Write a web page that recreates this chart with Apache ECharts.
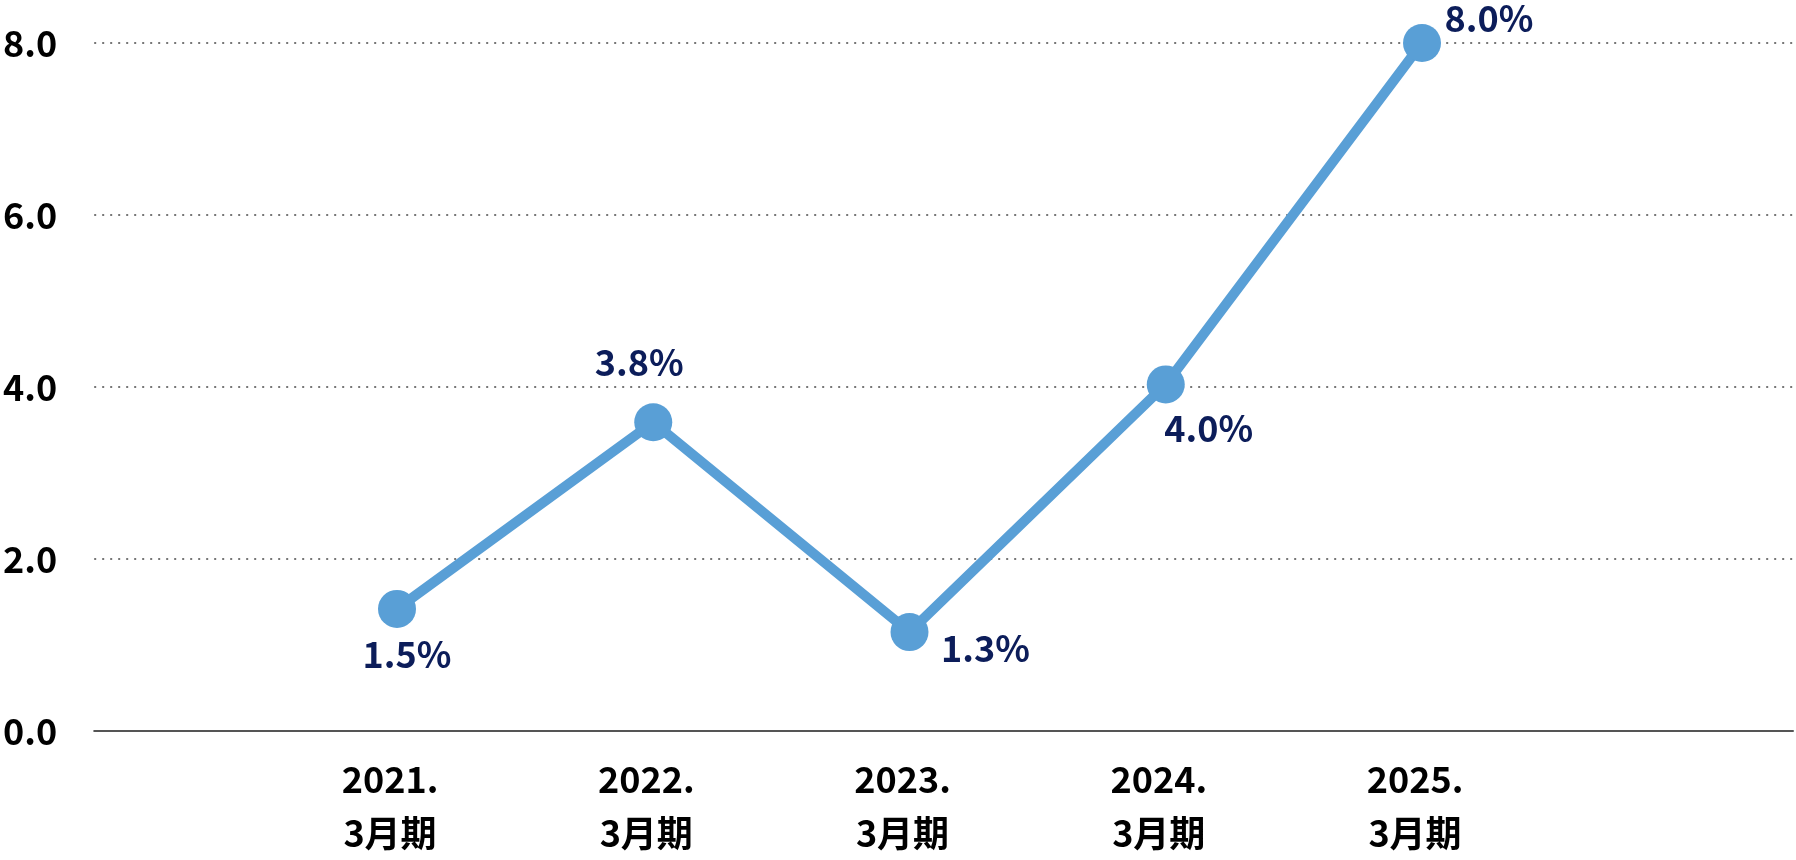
<!DOCTYPE html>
<html><head><meta charset="utf-8">
<script src="https://cdn.jsdelivr.net/npm/echarts@6/dist/echarts.min.js"></script>
<style>html,body{margin:0;padding:0;background:#fff}#c{width:1796px;height:860px}</style>
</head><body><div id="c"></div>
<script>
const categories = ['2021.\n3月期', '2022.\n3月期', '2023.\n3月期', '2024.\n3月期', '2025.\n3月期'];
const values = [1.42, 3.59, 1.15, 4.03, 8.0];
const valueLabels = ['1.5%', '3.8%', '1.3%', '4.0%', '8.0%'];
const yTicks = [0, 2, 4, 6, 8];

const labelOffsets = [[10, 45], [-14, -60], [76, 16], [43, 44], [67, -25]];
const FONT = '"Noto Sans CJK JP", "Noto Sans", sans-serif';
const chart = echarts.init(document.getElementById('c'), null, {renderer: 'canvas'});
const yMin = yTicks[0], yMax = yTicks[yTicks.length - 1], yStep = yTicks[1] - yTicks[0];

chart.setOption({
  animation: false,
  backgroundColor: '#ffffff',
  grid: [
    {left: 90, right: 3, top: 43, bottom: 129},
    {left: 397, right: 374, top: 43, bottom: 129}
  ],
  xAxis: [
    {gridIndex: 0, type: 'value', min: 0, max: 1, axisLine: {show: true, lineStyle: {color: '#555', width: 2}},
     axisTick: {show: false}, axisLabel: {show: false}, splitLine: {show: false}},
    {gridIndex: 1, type: 'category', data: categories, boundaryGap: false,
     axisLine: {show: false}, axisTick: {show: false},
     axisLabel: {margin: 21, color: '#000', fontSize: 36, fontWeight: 'bold', fontFamily: FONT, lineHeight: 54, interval: 0, padding: [0, 14, 0, 0]}}
  ],
  yAxis: [
    {gridIndex: 0, type: 'value', min: yMin, max: yMax, interval: yStep,
     axisLine: {show: false}, axisTick: {show: false},
     axisLabel: {margin: 37, color: '#000', fontSize: 36, fontWeight: 'bold', fontFamily: FONT, formatter: v => v.toFixed(1)},
     splitLine: {show: true, lineStyle: {color: '#777', width: 2, type: [2, 6]}}},
    {gridIndex: 1, type: 'value', min: yMin, max: yMax, show: false, splitLine: {show: false}}
  ],
  series: [{
    type: 'line', xAxisIndex: 1, yAxisIndex: 1,
    data: values.map((v, i) => ({value: v, label: {offset: labelOffsets[i], formatter: valueLabels[i]}})),
    symbol: 'circle', symbolSize: 38,
    lineStyle: {color: '#599fd6', width: 10},
    itemStyle: {color: '#599fd6'},
    label: {show: true, position: 'inside', color: '#0c1d5a', fontSize: 36, fontWeight: 'bold', fontFamily: FONT}
  }]
});
</script></body></html>
